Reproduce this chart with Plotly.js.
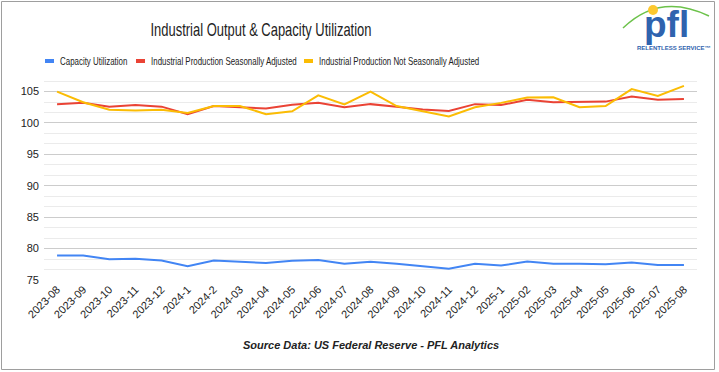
<!DOCTYPE html>
<html>
<head>
<meta charset="utf-8">
<script src="https://cdn.plot.ly/plotly-3.0.1.min.js"></script>
<style>html,body{margin:0;padding:0;background:#fff;}#chart{width:719px;height:372px;}</style>
</head>
<body>
<div id="chart"></div>
<script>
const months = ["2023-08","2023-09","2023-10","2023-11","2023-12","2024-1","2024-2","2024-03","2024-04","2024-05","2024-06","2024-07","2024-08","2024-09","2024-10","2024-11","2024-12","2025-1","2025-02","2025-03","2025-04","2025-05","2025-06","2025-07","2025-08"];
const capacityUtilization = [78.9,78.9,78.3,78.4,78.1,77.2,78.1,77.9,77.7,78.05,78.2,77.6,77.9,77.6,77.2,76.8,77.6,77.3,77.95,77.6,77.6,77.5,77.8,77.4,77.4];
const ipSeasonallyAdjusted = [103.0,103.2,102.6,102.85,102.6,101.4,102.7,102.5,102.3,102.9,103.2,102.5,103.0,102.6,102.15,101.9,103.0,102.85,103.7,103.3,103.4,103.4,104.2,103.7,103.8];
const ipNotSeasonallyAdjusted = [105.0,103.3,102.1,102.0,102.1,101.6,102.7,102.7,101.4,101.85,104.4,102.95,105.0,102.7,101.85,101.05,102.5,103.2,104.05,104.1,102.5,102.7,105.4,104.3,105.9];
const seriesNames = ["Capacity Utilization","Industrial Production Seasonally Adjusted","Industrial Production Not Seasonally Adjusted"];
const seriesColors = ["#4285F4","#EA4335","#FBBC04"];
const yTickValues = [75,80,85,90,95,100,105];

const W = 719, H = 372;
const M = {l:44, r:22, t:79, b:92};
const PW = W - M.l - M.r, PH = H - M.t - M.b;
const PX = x => (x - M.l) / PW;
const PY = y => (H - M.b - y) / PH;

const seriesData = [capacityUtilization, ipSeasonallyAdjusted, ipNotSeasonallyAdjusted];
const traces = seriesData.map((vals, i) => ({
  type: 'scatter', mode: 'lines', x: months, y: vals, name: seriesNames[i],
  line: {color: seriesColors[i], width: 2}, showlegend: false, hoverinfo: 'x+y'
}));

const sans = '"Liberation Sans", Arial, sans-serif';

// custom legend
const legendItems = [
  {mx: 45, tx: 58},
  {mx: 136, tx: 149},
  {mx: 304, tx: 317}
];
const shapes = [];
const annotations = [];
legendItems.forEach((it, i) => {
  shapes.push({type:'line', xref:'paper', yref:'paper', x0:PX(it.mx), x1:PX(it.mx+9), y0:PY(61), y1:PY(61),
    line:{color:seriesColors[i], width:4}});
  annotations.push({xref:'paper', yref:'paper', x:PX(it.tx), y:PY(61), xanchor:'left', yanchor:'middle',
    text: seriesNames[i], showarrow:false, font:{family:sans, size:11, color:'#222'}});
});

// border
shapes.push({type:'rect', xref:'paper', yref:'paper', x0:PX(1.5), x1:PX(714.5), y0:PY(1.5), y1:PY(369.5),
  line:{color:'#9e9e9e', width:1}, layer:'above'});

// logo: green arc + sun
shapes.push({type:'path', xref:'paper', yref:'paper', layer:'above',
  path: `M ${PX(623)} ${PY(28)} Q ${PX(660)} ${PY(-8)} ${PX(709)} ${PY(16)}`,
  line:{color:'#6cc24a', width:1.5}});
shapes.push({type:'circle', xref:'paper', yref:'paper', layer:'above',
  x0:PX(648), x1:PX(658), y0:PY(5), y1:PY(15), fillcolor:'#FDC82F', line:{width:0}});
annotations.push({xref:'paper', yref:'paper', x:PX(666), y:PY(25), xanchor:'center', yanchor:'middle',
  text:'<b>pfl</b>', showarrow:false, font:{family:sans, size:37, color:'#2f63ae'}});
annotations.push({xref:'paper', yref:'paper', x:PX(674), y:PY(48), xanchor:'center', yanchor:'middle',
  text:'<b>RELENTLESS SERVICE™</b>', showarrow:false, font:{family:sans, size:6, color:'#2f63ae'}});

// source text
annotations.push({xref:'paper', yref:'paper', x:0.5, y:PY(345), xanchor:'center', yanchor:'middle',
  text:'<b><i>Source Data: US Federal Reserve - PFL Analytics</i></b>', showarrow:false,
  font:{family:sans, size:11, color:'#222'}});

const layout = {
  width: W, height: H,
  margin: M,
  paper_bgcolor: '#fff', plot_bgcolor: '#fff',
  title: {text: 'Industrial Output & Capacity Utilization', xref:'container', yref:'container',
    x: 261/W, xanchor:'center', y: 1 - 30/H, yanchor:'middle',
    font:{family:sans, size:18, color:'#222'}},
  showlegend: false,
  xaxis: {type:'category', range:[-0.5, months.length-0.5], showgrid:false, zeroline:false,
    showline:false, ticks:'', tickangle:-45, tickfont:{family:sans, size:11, color:'#222'},
    fixedrange:true},
  yaxis: {range:[75, 107], tickmode:'array', tickvals: yTickValues, ticktext: yTickValues.map(String),
    showgrid:true, gridcolor:'#cccccc', gridwidth:1, zeroline:false, showline:false, ticks:'',
    ticklabelstandoff: 4,
    tickfont:{family:sans, size:11, color:'#222'},
    minor:{tick0:75, dtick:5/3, showgrid:true, gridcolor:'#ebebeb', gridwidth:1},
    fixedrange:true},
  shapes, annotations
};

// horizontally condense a text element (the reference uses a narrow face)
function squeeze(el, s, anchor) {
  const bb = el.getBBox();
  const ax = anchor === 'left' ? bb.x : bb.x + bb.width / 2;
  const prev = el.getAttribute('transform') || '';
  el.setAttribute('transform', `${prev} translate(${ax * (1 - s)},0) scale(${s},1)`);
}

Plotly.newPlot('chart', traces, layout, {displayModeBar:false, staticPlot:true}).then(gd => {
  const t = gd.querySelector('.gtitle');
  if (t) squeeze(t, 0.72, 'center');
  gd.querySelectorAll('.annotation-text').forEach(el => {
    if (seriesNames.includes(el.textContent)) squeeze(el, 0.72, 'left');
  });
});
</script>
</body>
</html>
